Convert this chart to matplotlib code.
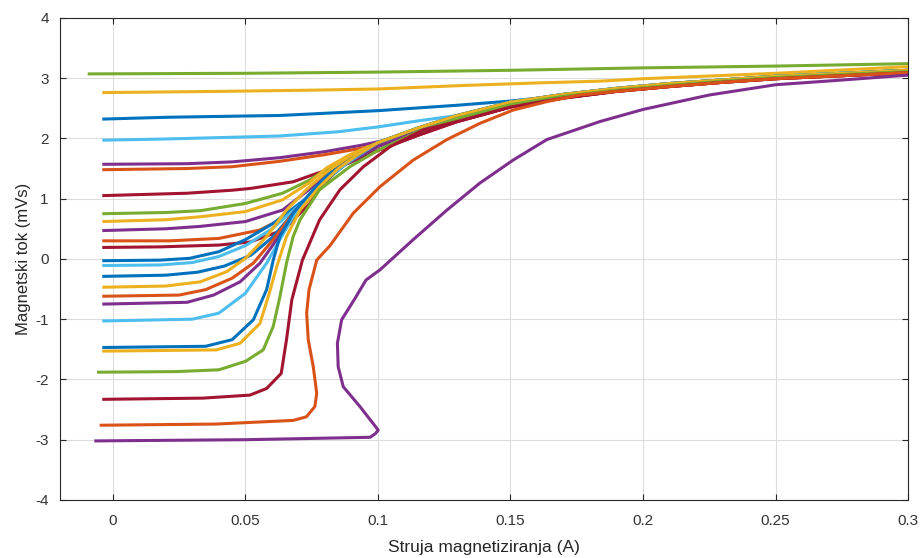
import matplotlib
matplotlib.use("Agg")
import matplotlib.pyplot as plt

# MATLAB default colour order
BLUE, ORANGE, YELLOW, PURPLE = '#0072BD', '#D95319', '#EDB120', '#7E2F8E'
GREEN, LBLUE, DRED = '#77AC30', '#4DBEEE', '#A2142F'

# shared upper branch (bundle) where curves converge
tail_x = [0.1, 0.115, 0.13, 0.15, 0.17, 0.19, 0.21, 0.23, 0.25, 0.275, 0.3]
tail_hi_y = [1.93, 2.17, 2.38, 2.60, 2.73, 2.83, 2.91, 2.97, 3.03, 3.08, 3.13]
tail_mid_y = [1.87, 2.11, 2.33, 2.56, 2.70, 2.80, 2.88, 2.95, 3.01, 3.06, 3.11]
tail_lo_y = [1.80, 2.05, 2.28, 2.52, 2.67, 2.78, 2.86, 2.93, 2.99, 3.04, 3.09]

# each curve, from highest starting flux to lowest
c01_x = [-0.0095, 0.05, 0.1, 0.15, 0.2, 0.25, 0.3]
c01_y = [3.07, 3.08, 3.10, 3.13, 3.17, 3.20, 3.24]
c02_x = [-0.004, 0.04, 0.075, 0.1, 0.1335, 0.16, 0.184, 0.2, 0.25, 0.3]
c02_y = [2.76, 2.78, 2.80, 2.82, 2.88, 2.92, 2.95, 2.99, 3.08, 3.19]
c03_x = [-0.004, 0.02, 0.048, 0.063, 0.1, 0.13, 0.15, 0.17, 0.19, 0.22, 0.25, 0.3]
c03_y = [2.32, 2.35, 2.37, 2.38, 2.46, 2.55, 2.62, 2.71, 2.80, 2.92, 3.01, 3.12]
c04_x = [-0.004, 0.02, 0.055, 0.063, 0.085, 0.1, 0.115, 0.13]
c04_y = [1.97, 1.99, 2.03, 2.04, 2.11, 2.19, 2.29, 2.38]
c05_x = [-0.004, 0.028, 0.045, 0.063, 0.08, 0.093, 0.105, 0.115]
c05_y = [1.57, 1.58, 1.61, 1.68, 1.78, 1.88, 1.99, 2.10]
c06_x = [-0.004, 0.028, 0.045, 0.063, 0.08, 0.093, 0.105, 0.115]
c06_y = [1.48, 1.50, 1.53, 1.62, 1.73, 1.83, 1.95, 2.06]
c07_x = [-0.004, 0.028, 0.045, 0.052, 0.068, 0.077, 0.089]
c07_y = [1.05, 1.09, 1.14, 1.17, 1.28, 1.42, 1.59]
c08_x = [-0.004, 0.02, 0.033, 0.05, 0.064, 0.0743, 0.083, 0.0957]
c08_y = [0.75, 0.77, 0.80, 0.92, 1.09, 1.31, 1.56, 1.81]
c09_x = [-0.004, 0.02, 0.033, 0.05, 0.064, 0.074, 0.0806, 0.0894]
c09_y = [0.62, 0.65, 0.70, 0.785, 0.98, 1.26, 1.51, 1.73]
c10_x = [-0.004, 0.02, 0.033, 0.05, 0.064, 0.074, 0.081, 0.09]
c10_y = [0.47, 0.50, 0.54, 0.62, 0.81, 1.15, 1.42, 1.66]
c11_x = [-0.004, 0.0215, 0.04, 0.0555, 0.068, 0.078, 0.085]
c11_y = [0.30, 0.30, 0.34, 0.48, 0.76, 1.15, 1.50]
c12_x = [-0.004, 0.018, 0.04, 0.0517, 0.0643, 0.0743, 0.0806, 0.088]
c12_y = [0.19, 0.20, 0.23, 0.28, 0.48, 0.92, 1.37, 1.62]
c13_x = [-0.004, 0.018, 0.029, 0.04, 0.05, 0.0605, 0.068, 0.0756, 0.0806, 0.088]
c13_y = [-0.03, -0.02, 0.01, 0.12, 0.32, 0.59, 0.84, 1.09, 1.31, 1.58]
c14_x = [-0.004, 0.018, 0.03, 0.04, 0.05, 0.06, 0.068, 0.0756, 0.081, 0.088]
c14_y = [-0.11, -0.10, -0.06, 0.04, 0.22, 0.50, 0.80, 1.10, 1.35, 1.60]
c15_x = [-0.004, 0.02, 0.032, 0.042, 0.052, 0.06, 0.067, 0.074, 0.08, 0.087]
c15_y = [-0.29, -0.27, -0.22, -0.12, 0.06, 0.35, 0.70, 1.05, 1.35, 1.60]
c16_x = [-0.004, 0.02, 0.033, 0.043, 0.05, 0.058, 0.0655, 0.073, 0.08, 0.087]
c16_y = [-0.47, -0.45, -0.38, -0.21, 0.01, 0.37, 0.81, 1.15, 1.42, 1.63]
c17_x = [-0.004, 0.025, 0.035, 0.045, 0.053, 0.0605, 0.068, 0.075, 0.081, 0.088]
c17_y = [-0.62, -0.60, -0.51, -0.32, -0.07, 0.32, 0.76, 1.10, 1.38, 1.60]
c18_x = [-0.004, 0.028, 0.038, 0.048, 0.0555, 0.0618, 0.068, 0.075, 0.081, 0.088]
c18_y = [-0.75, -0.72, -0.60, -0.38, -0.07, 0.32, 0.70, 1.05, 1.35, 1.58]
c19_x = [-0.004, 0.03, 0.04, 0.05, 0.058, 0.063, 0.068, 0.073, 0.08, 0.088]
c19_y = [-1.03, -1.00, -0.90, -0.57, -0.07, 0.32, 0.70, 0.98, 1.31, 1.58]
c20_x = [-0.004, 0.035, 0.045, 0.053, 0.058, 0.0605, 0.063, 0.068, 0.0756, 0.082, 0.09]
c20_y = [-1.47, -1.45, -1.34, -1.01, -0.51, -0.02, 0.37, 0.76, 1.15, 1.42, 1.66]
c21_x = [-0.004, 0.039, 0.048, 0.0555, 0.059, 0.0618, 0.0655, 0.0706, 0.078, 0.085, 0.092]
c21_y = [-1.53, -1.51, -1.40, -1.07, -0.57, -0.13, 0.37, 0.81, 1.20, 1.50, 1.72]
c22_x = [-0.006, 0.024, 0.04, 0.05, 0.0567, 0.0605, 0.063, 0.0655, 0.068, 0.0706, 0.078, 0.0894, 0.1]
c22_y = [-1.88, -1.87, -1.84, -1.70, -1.51, -1.12, -0.63, -0.07, 0.37, 0.65, 1.15, 1.53, 1.80]
c23_x = [-0.004, 0.034, 0.0517, 0.058, 0.0635, 0.0655, 0.0675, 0.0715, 0.078, 0.0857, 0.0945, 0.1045, 0.117]
c23_y = [-2.33, -2.31, -2.26, -2.15, -1.90, -1.34, -0.68, -0.02, 0.65, 1.15, 1.53, 1.86, 2.14]
c24_x = [-0.005, 0.039, 0.068, 0.073, 0.0762, 0.0769, 0.0756, 0.0737, 0.0731, 0.074, 0.0769,
         0.0819, 0.0907, 0.1008, 0.1133, 0.126, 0.1385, 0.151, 0.1637, 0.176]
c24_y = [-2.76, -2.74, -2.68, -2.62, -2.45, -2.23, -1.79, -1.34, -0.90, -0.51, -0.02,
         0.22, 0.76, 1.20, 1.64, 1.98, 2.25, 2.47, 2.61, 2.72]
c25_x = [-0.007, 0.05, 0.097, 0.099, 0.1001, 0.0932, 0.0869, 0.085, 0.0847, 0.0863, 0.091, 0.0955,
         0.1008, 0.1133, 0.126, 0.1385, 0.151, 0.1637, 0.1838, 0.2, 0.225, 0.25, 0.2756, 0.3]
c25_y = [-3.02, -3.00, -2.96, -2.90, -2.84, -2.45, -2.12, -1.79, -1.40, -1.01, -0.68, -0.35,
         -0.18, 0.32, 0.81, 1.26, 1.64, 1.98, 2.28, 2.48, 2.72, 2.89, 2.97, 3.05]

curves = [
    (GREEN, c01_x, c01_y, None), (YELLOW, c02_x, c02_y, None), (BLUE, c03_x, c03_y, None),
    (LBLUE, c04_x, c04_y, tail_hi_y), (PURPLE, c05_x, c05_y, tail_mid_y),
    (ORANGE, c06_x, c06_y, tail_mid_y), (DRED, c07_x, c07_y, tail_lo_y),
    (GREEN, c08_x, c08_y, tail_hi_y), (YELLOW, c09_x, c09_y, tail_hi_y),
    (PURPLE, c10_x, c10_y, tail_mid_y), (ORANGE, c11_x, c11_y, tail_mid_y),
    (DRED, c12_x, c12_y, tail_lo_y), (BLUE, c13_x, c13_y, tail_mid_y),
    (LBLUE, c14_x, c14_y, tail_hi_y), (BLUE, c15_x, c15_y, tail_mid_y),
    (YELLOW, c16_x, c16_y, tail_hi_y), (ORANGE, c17_x, c17_y, tail_mid_y),
    (PURPLE, c18_x, c18_y, tail_mid_y), (LBLUE, c19_x, c19_y, tail_hi_y),
    (BLUE, c20_x, c20_y, tail_hi_y), (YELLOW, c21_x, c21_y, tail_hi_y),
    (GREEN, c22_x, c22_y, tail_mid_y), (DRED, c23_x, c23_y, tail_lo_y),
    (ORANGE, c24_x, c24_y, tail_lo_y), (PURPLE, c25_x, c25_y, None),
]

x_ticks = [0, 0.05, 0.1, 0.15, 0.2, 0.25, 0.3]
x_labels = ['0', '0.05', '0.1', '0.15', '0.2', '0.25', '0.3']
y_ticks = [-4, -3, -2, -1, 0, 1, 2, 3, 4]

plt.rcParams['font.family'] = ['Liberation Sans', 'DejaVu Sans']
plt.rcParams['axes.unicode_minus'] = False

fig = plt.figure(figsize=(9.21, 5.58), dpi=100)
ax = fig.add_axes([0.065, 0.104, 0.921, 0.864])

for color, xs, ys, tail in curves:
    px, py = list(xs), list(ys)
    if tail is not None:
        for tx, ty in zip(tail_x, tail):
            if tx > xs[-1] + 1e-9:
                px.append(tx)
                py.append(ty)
    ax.plot(px, py, color=color, lw=2.2, solid_joinstyle='round', solid_capstyle='butt')

ax.set_xlim(-0.02, 0.3)
ax.set_ylim(-4, 4)
ax.set_xticks(x_ticks)
ax.set_xticklabels(x_labels)
ax.set_yticks(y_ticks)
ax.grid(True, color='#dcdcdc', lw=0.8)
ax.set_axisbelow(True)
ax.tick_params(direction='in', length=4, width=0.8, top=True, right=True,
               labelsize=11, colors='#262626', labelcolor='#333333')
ax.tick_params(axis='x', pad=10)
ax.tick_params(axis='y', pad=8)
for s in ax.spines.values():
    s.set_color('#262626')
    s.set_linewidth(0.8)
ax.set_xlabel('Struja magnetiziranja (A)', fontsize=12.5, color='#262626', labelpad=9)
ax.set_ylabel('Magnetski tok (mVs)', fontsize=12, color='#262626', labelpad=3)

fig.savefig('out.png', dpi=100)
